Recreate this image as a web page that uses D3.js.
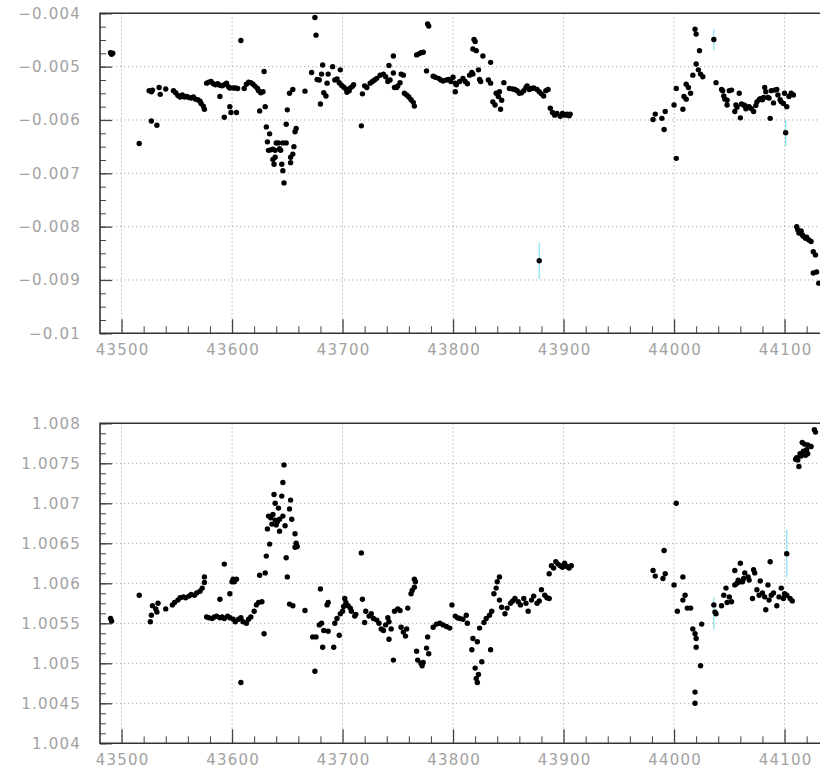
<!DOCTYPE html>
<html><head><meta charset="utf-8">
<script src="https://cdn.jsdelivr.net/npm/d3@7"></script>
<style>
html,body{margin:0;padding:0;background:#fff;}
svg{display:block;}
.tl text{font-family:"DejaVu Sans","Liberation Sans",Arial,sans-serif;font-size:15px;fill:#a2a2a2;letter-spacing:1.2px;}
</style></head>
<body><svg id="c" width="820" height="771"></svg>
<script>
// ---------- DATA ----------
const xTicks = [43500, 43600, 43700, 43800, 43900, 44000, 44100];
const topYTicks = [-0.01, -0.009, -0.008, -0.007, -0.006, -0.005, -0.004];
const botYTicks = [1.004, 1.0045, 1.005, 1.0055, 1.006, 1.0065, 1.007, 1.0075, 1.008];

const topPoints = [
[43490,-0.00474],[43491,-0.00477],[43492,-0.00475],[43516,-0.00644],
[43525,-0.00545],[43527,-0.00547],[43528,-0.00544],[43527,-0.00602],[43532,-0.00610],
[43534,-0.00539],[43535,-0.00552],[43540,-0.00542],
[43547,-0.00545],[43549,-0.00549],[43551,-0.00554],[43553,-0.00557],[43555,-0.00553],[43557,-0.00557],
[43559,-0.00556],[43561,-0.00558],[43563,-0.00559],[43565,-0.00557],[43567,-0.00561],[43569,-0.00562],
[43571,-0.00565],[43572,-0.00569],[43574,-0.00574],[43575,-0.00580],
[43577,-0.00531],[43579,-0.00529],[43581,-0.00528],[43583,-0.00532],[43585,-0.00534],[43587,-0.00532],
[43589,-0.00535],[43591,-0.00536],[43593,-0.00534],[43595,-0.00531],[43597,-0.00538],[43598,-0.00540],
[43589,-0.00556],[43593,-0.00595],[43598,-0.00575],[43599,-0.00586],[43604,-0.00586],[43608,-0.00451],
[43601,-0.00540],[43603,-0.00540],[43605,-0.00541],
[43611,-0.00541],[43613,-0.00533],[43615,-0.00529],[43617,-0.00530],[43619,-0.00533],[43621,-0.00537],
[43623,-0.00541],[43624,-0.00545],[43626,-0.00549],[43628,-0.00547],
[43629,-0.00509],[43625,-0.00583],[43630,-0.00575],[43631,-0.00613],[43634,-0.00626],[43632,-0.00641],
[43633,-0.00657],[43635,-0.00656],[43637,-0.00655],[43639,-0.00657],[43640,-0.00643],[43642,-0.00643],
[43644,-0.00657],[43646,-0.00643],[43643,-0.00654],
[43637,-0.00674],[43639,-0.00670],[43638,-0.00683],[43645,-0.00683],[43646,-0.00695],[43647,-0.00718],
[43649,-0.00643],[43649,-0.00608],[43650,-0.00581],[43652,-0.00550],[43655,-0.00543],
[43653,-0.00670],[43653,-0.00680],[43656,-0.00650],[43657,-0.00622],[43658,-0.00616],[43655,-0.00664],
[43666,-0.00546],
[43675,-0.00408],[43676,-0.00441],[43672,-0.00511],[43677,-0.00524],[43679,-0.00525],[43682,-0.00497],
[43680,-0.00570],[43681,-0.00514],[43683,-0.00549],[43685,-0.00555],[43687,-0.00514],[43686,-0.00531],
[43691,-0.00500],[43693,-0.00525],[43695,-0.00523],[43697,-0.00530],[43698,-0.00506],
[43699,-0.00535],[43701,-0.00538],[43703,-0.00542],[43704,-0.00548],[43706,-0.00545],[43707,-0.00540],
[43709,-0.00537],[43710,-0.00534],
[43717,-0.00611],[43718,-0.00551],
[43720,-0.00536],[43722,-0.00539],[43725,-0.00531],[43727,-0.00528],[43729,-0.00525],[43731,-0.00522],
[43734,-0.00516],[43737,-0.00514],[43739,-0.00519],[43741,-0.00528],[43743,-0.00525],[43746,-0.00512],
[43747,-0.00539],[43749,-0.00539],[43750,-0.00536],[43752,-0.00530],[43753,-0.00514],[43755,-0.00516],
[43742,-0.00498],[43746,-0.00480],
[43756,-0.00550],[43758,-0.00553],[43760,-0.00557],[43762,-0.00562],[43764,-0.00567],[43765,-0.00574],
[43767,-0.00478],[43769,-0.00476],[43771,-0.00474],[43773,-0.00473],
[43777,-0.00420],[43778,-0.00424],[43776,-0.00508],
[43782,-0.00518],[43784,-0.00520],[43787,-0.00522],[43789,-0.00525],[43791,-0.00527],[43794,-0.00525],
[43796,-0.00524],[43798,-0.00528],[43800,-0.00520],[43802,-0.00531],[43803,-0.00534],[43806,-0.00528],
[43809,-0.00522],[43811,-0.00528],[43813,-0.00532],[43815,-0.00516],[43817,-0.00511],[43818,-0.00514],
[43802,-0.00547],
[43819,-0.00449],[43820,-0.00453],[43818,-0.00467],[43821,-0.00470],
[43823,-0.00506],[43824,-0.00524],[43825,-0.00528],
[43827,-0.00480],[43834,-0.00492],[43832,-0.00525],[43834,-0.00531],
[43836,-0.00566],[43838,-0.00572],[43839,-0.00550],[43841,-0.00556],[43843,-0.00580],[43844,-0.00563],
[43846,-0.00530],[43842,-0.00547],
[43851,-0.00541],[43854,-0.00542],[43856,-0.00543],[43858,-0.00545],[43860,-0.00550],[43862,-0.00549],
[43864,-0.00545],[43866,-0.00539],[43867,-0.00536],[43869,-0.00543],[43871,-0.00541],[43873,-0.00540],
[43876,-0.00543],[43878,-0.00547],[43880,-0.00551],[43882,-0.00555],[43884,-0.00545],[43886,-0.00543],
[43888,-0.00578],[43890,-0.00586],[43892,-0.00591],[43894,-0.00588],[43897,-0.00593],[43899,-0.00588],
[43901,-0.00591],[43903,-0.00589],[43904,-0.00591],[43905,-0.00592],[43906,-0.00589],
[43878,-0.00864],
[43981,-0.00599],[43983,-0.00589],[43989,-0.00597],[43991,-0.00618],[43992,-0.00584],
[44000,-0.00572],[44002,-0.00541],[44002,-0.00672],
[44008,-0.00580],[44009,-0.00556],[44011,-0.00561],[44011,-0.00533],[44013,-0.00539],[44015,-0.00550],
[44017,-0.00516],[44019,-0.00430],[44020,-0.00439],[44020,-0.00495],[44022,-0.00506],[44023,-0.00470],
[44024,-0.00514],[44026,-0.00519],
[44036,-0.00449],
[44038,-0.00530],[44043,-0.00543],[44044,-0.00545],[44045,-0.00555],[44046,-0.00561],[44048,-0.00563],
[44048,-0.00572],[44050,-0.00545],[44052,-0.00544],
[44055,-0.00584],[44056,-0.00572],[44057,-0.00576],[44059,-0.00550],[44060,-0.00596],[44061,-0.00570],
[44063,-0.00572],[44064,-0.00573],[44065,-0.00579],[44067,-0.00576],[44068,-0.00575],[44070,-0.00579],
[44072,-0.00584],[44074,-0.00573],
[44075,-0.00566],[44077,-0.00562],[44078,-0.00560],[44080,-0.00562],[44081,-0.00558],[44082,-0.00539],
[44083,-0.00547],[44085,-0.00558],[44086,-0.00559],[44088,-0.00545],[44087,-0.00597],[44090,-0.00568],
[44091,-0.00544],[44093,-0.00543],[44094,-0.00553],[44096,-0.00562],[44097,-0.00566],[44099,-0.00569],
[44100,-0.00550],[44102,-0.00575],[44101,-0.00624],[44104,-0.00556],[44106,-0.00550],[44108,-0.00553],
[44111,-0.00800],[44112,-0.00806],[44113,-0.00812],[44115,-0.00808],[44116,-0.00815],[44117,-0.00818],
[44119,-0.00822],[44120,-0.00820],[44122,-0.00825],[44124,-0.00828],[44126,-0.00847],[44128,-0.00853],
[44126,-0.00887],[44129,-0.00885],[44131,-0.00906]
];
const topErrors = [[43878,-0.00864,0.00034],[44036,-0.00449,0.00020],[44101,-0.00624,0.00025]];

const botPoints = [
[43490,1.00556],[43491,1.00553],[43516,1.00585],
[43526,1.00552],[43527,1.00560],[43528,1.00572],[43531,1.00568],[43532,1.00564],[43533,1.00575],[43540,1.00568],
[43546,1.00573],[43548,1.00576],[43551,1.00579],[43553,1.00582],[43556,1.00583],[43558,1.00582],
[43561,1.00584],[43563,1.00586],[43566,1.00585],[43568,1.00588],[43571,1.00590],[43573,1.00594],
[43575,1.00601],[43575,1.00608],
[43577,1.00558],[43579,1.00557],[43582,1.00556],[43584,1.00558],[43586,1.00559],[43589,1.00557],
[43591,1.00558],[43593,1.00556],[43596,1.00559],[43598,1.00557],[43601,1.00555],[43603,1.00552],
[43606,1.00555],[43608,1.00557],[43610,1.00552],[43613,1.00550],[43615,1.00555],[43617,1.00558],
[43620,1.00565],[43622,1.00573],[43624,1.00576],[43627,1.00577],
[43589,1.00580],[43598,1.00587],[43600,1.00602],[43602,1.00602],[43608,1.00476],[43629,1.00537],
[43593,1.00624],[43601,1.00605],[43604,1.00605],[43625,1.00610],[43630,1.00613],
[43647,1.00748],[43646,1.00726],[43638,1.00711],[43645,1.00709],[43653,1.00704],[43639,1.00700],
[43642,1.00694],[43652,1.00693],
[43633,1.00684],[43635,1.00682],[43637,1.00686],[43639,1.00679],[43641,1.00677],[43643,1.00680],
[43646,1.00684],[43636,1.00674],[43640,1.00673],
[43654,1.00680],[43648,1.00672],[43643,1.00665],[43632,1.00668],[43634,1.00649],
[43657,1.00662],[43658,1.00650],[43657,1.00645],[43659,1.00646],
[43631,1.00634],[43649,1.00632],[43650,1.00608],
[43652,1.00574],[43655,1.00572],[43666,1.00566],
[43673,1.00533],[43676,1.00533],[43675,1.00490],
[43679,1.00548],[43681,1.00550],[43680,1.00593],
[43682,1.00520],[43683,1.00541],[43686,1.00573],[43687,1.00576],[43687,1.00540],[43692,1.00520],
[43693,1.00550],[43695,1.00556],[43698,1.00562],[43697,1.00535],[43700,1.00565],[43701,1.00571],
[43702,1.00581],[43703,1.00576],[43705,1.00572],[43707,1.00569],[43708,1.00565],[43711,1.00559],[43712,1.00561],
[43717,1.00638],[43718,1.00580],[43720,1.00551],
[43721,1.00565],[43724,1.00559],[43726,1.00562],[43728,1.00556],[43731,1.00554],[43733,1.00550],
[43735,1.00543],[43737,1.00541],[43739,1.00548],[43741,1.00557],[43742,1.00552],[43744,1.00543],
[43746,1.00504],[43742,1.00530],[43747,1.00565],[43750,1.00568],[43752,1.00566],[43753,1.00545],
[43755,1.00539],[43757,1.00534],[43758,1.00543],[43759,1.00569],[43762,1.00587],[43763,1.00591],
[43765,1.00595],[43766,1.00602],[43765,1.00605],
[43767,1.00515],[43768,1.00504],[43771,1.00500],[43772,1.00497],[43773,1.00501],[43776,1.00519],
[43777,1.00533],[43778,1.00512],
[43782,1.00545],[43785,1.00549],[43788,1.00550],[43791,1.00548],[43794,1.00546],[43797,1.00544],
[43799,1.00573],[43802,1.00559],[43804,1.00557],[43806,1.00556],[43809,1.00555],[43812,1.00560],[43813,1.00550],
[43817,1.00517],[43820,1.00494],[43821,1.00481],[43822,1.00476],[43823,1.00486],[43818,1.00531],
[43822,1.00527],[43826,1.00502],
[43824,1.00544],[43828,1.00551],[43830,1.00556],[43833,1.00560],[43834,1.00517],[43835,1.00565],
[43837,1.00587],[43839,1.00594],[43840,1.00602],[43842,1.00608],
[43842,1.00579],[43844,1.00570],[43847,1.00562],[43849,1.00569],[43852,1.00575],[43854,1.00578],
[43856,1.00581],[43859,1.00577],[43861,1.00573],[43864,1.00581],[43866,1.00575],[43868,1.00565],
[43871,1.00579],[43873,1.00584],[43876,1.00575],[43878,1.00578],[43880,1.00592],[43883,1.00585],
[43885,1.00582],[43887,1.00581],
[43887,1.00612],[43889,1.00622],[43891,1.00619],[43893,1.00627],[43895,1.00624],[43897,1.00622],
[43899,1.00620],[43901,1.00625],[43903,1.00621],[43905,1.00619],[43907,1.00622],
[43981,1.00616],[43983,1.00609],[43992,1.00612],[43990,1.00606],[44008,1.00608],[43991,1.00641],
[44002,1.00700],
[44000,1.00598],[44003,1.00565],[44008,1.00579],[44010,1.00585],[44012,1.00569],[44015,1.00569],
[44017,1.00543],[44019,1.00537],[44020,1.00531],[44020,1.00520],[44024,1.00497],[44025,1.00549],
[44019,1.00464],[44019,1.00450],
[44036,1.00573],[44037,1.00564],[44038,1.00562],
[44043,1.00572],[44045,1.00585],[44047,1.00594],[44048,1.00576],[44050,1.00583],[44052,1.00577],
[44055,1.00598],[44057,1.00600],[44060,1.00602],[44062,1.00602],
[44060,1.00625],[44055,1.00616],[44064,1.00613],[44067,1.00608],[44072,1.00617],[44073,1.00613],[44087,1.00627],
[44058,1.00604],[44063,1.00606],[44068,1.00604],[44078,1.00603],[44085,1.00598],
[44071,1.00581],[44075,1.00592],[44077,1.00585],[44080,1.00588],[44082,1.00583],[44083,1.00567],
[44086,1.00579],[44088,1.00585],[44090,1.00588],[44093,1.00572],[44095,1.00583],[44097,1.00594],
[44099,1.00581],[44100,1.00587],[44102,1.00585],[44105,1.00581],[44107,1.00578],
[44102,1.00637],
[44116,1.00776],[44118,1.00774],[44121,1.00773],[44124,1.00771],[44120,1.00767],[44117,1.00765],
[44114,1.00762],[44111,1.00757],[44112,1.00754],[44113,1.00746],[44121,1.00762],[44119,1.00760],
[44115,1.00759],[44110,1.00755],[44127,1.00792],[44128,1.00789]
];
const botErrors = [[44036,1.00562,0.00020],[44102,1.00637,0.00030]];

// ---------- DRAW ----------
const svg = d3.select("#c");
const xDomain = [43480.5, 44160];
const xRange = [100, 100 + (xDomain[1]-xDomain[0])*1.105];

function panel(cfg){
  const x = d3.scaleLinear().domain(xDomain).range(xRange);
  const y = d3.scaleLinear().domain(cfg.yDomain).range([cfg.bottom, cfg.top]);
  const g = svg.append("g");
  const clipId = "clip"+cfg.id;
  svg.append("clipPath").attr("id", clipId).append("rect")
    .attr("x", xRange[0]).attr("y", cfg.top).attr("width", xRange[1]-xRange[0]).attr("height", cfg.bottom-cfg.top);

  // grid
  const grid = g.append("g").attr("stroke","#a8a8a8").attr("stroke-width",1).attr("stroke-dasharray","1.2,2.8");
  grid.selectAll(".gx").data(xTicks).join("line")
    .attr("x1", d=>x(d)).attr("x2", d=>x(d)).attr("y1", cfg.top).attr("y2", cfg.bottom);
  grid.selectAll(".gy").data(cfg.yTicks.filter(v=>v!==cfg.yDomain[0] && v!==cfg.yDomain[1])).join("line")
    .attr("x1", xRange[0]).attr("x2", xRange[1]).attr("y1", d=>y(d)).attr("y2", d=>y(d));

  // x axis minor + major
  const xMinor = d3.range(43500, 44160, 20).filter(v=>!xTicks.includes(v));
  g.append("g").attr("transform",`translate(0,${cfg.bottom})`)
    .call(d3.axisBottom(x).tickValues(xMinor).tickSize(-7).tickFormat(""))
    .call(s=>{s.select(".domain").remove(); s.selectAll("line").attr("stroke","#444");});
  g.append("g").attr("class","tl").attr("transform",`translate(0,${cfg.bottom})`)
    .call(d3.axisBottom(x).tickValues(xTicks).tickSize(-14).tickPadding(11).tickFormat(d3.format("d")))
    .call(s=>{s.select(".domain").remove(); s.selectAll("line").attr("stroke","#444").attr("stroke-width",1.3);
      s.selectAll("text").attr("dx","0.6px");});

  // y axis minor + major
  const yMinor = d3.range(0, Math.round((cfg.yDomain[1]-cfg.yDomain[0])/cfg.minorStep)+1)
      .map(i=>cfg.yDomain[0]+i*cfg.minorStep);
  g.append("g").attr("transform",`translate(${xRange[0]},0)`)
    .call(d3.axisLeft(y).tickValues(yMinor).tickSize(-6).tickFormat(""))
    .call(s=>{s.select(".domain").remove(); s.selectAll("line").attr("stroke","#444");});
  g.append("g").attr("class","tl").attr("transform",`translate(${xRange[0]},0)`)
    .call(d3.axisLeft(y).tickValues(cfg.yTicks).tickSize(-12).tickPadding(19).tickFormat(d=>d3.format("")(d)))
    .call(s=>{s.select(".domain").remove(); s.selectAll("line").attr("stroke","#444").attr("stroke-width",1.3);});

  // frame
  g.append("path").attr("fill","none").attr("stroke","#333").attr("stroke-width",1.6)
    .attr("d", `M${xRange[1]},${cfg.top}H${xRange[0]}V${cfg.bottom}H${xRange[1]}`);

  // data
  const pg = g.append("g").attr("clip-path",`url(#${clipId})`);
  pg.selectAll("line.err").data(cfg.errors).join("line").attr("class","err")
    .attr("x1", d=>x(d[0])).attr("x2", d=>x(d[0]))
    .attr("y1", d=>y(d[1]-d[2])).attr("y2", d=>y(d[1]+d[2]))
    .attr("stroke","#7fe3f0").attr("stroke-width",1.2);
  pg.selectAll("circle").data(cfg.points).join("circle")
    .attr("cx", d=>x(d[0])).attr("cy", d=>y(d[1])).attr("r", 2.7).attr("fill","#000");
}

panel({id:"t", top:13.3, bottom:333.3, yDomain:[-0.01,-0.004], yTicks:topYTicks, minorStep:0.00025,
       points:topPoints, errors:topErrors});
panel({id:"b", top:423.3, bottom:743.3, yDomain:[1.004,1.008], yTicks:botYTicks, minorStep:0.000125,
       points:botPoints, errors:botErrors});
</script></body></html>
